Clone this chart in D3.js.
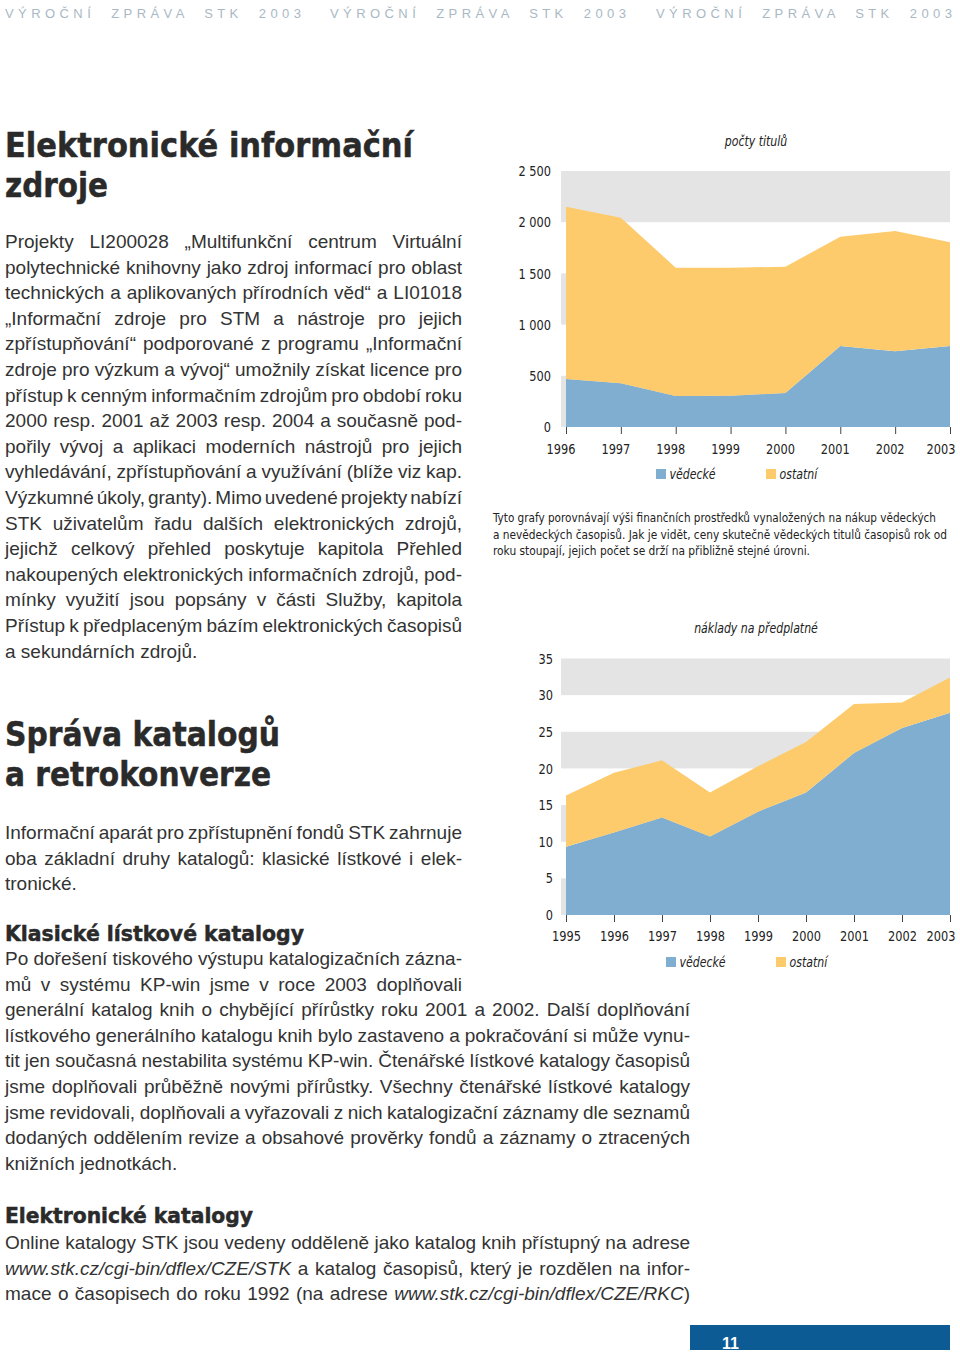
<!DOCTYPE html>
<html><head><meta charset="utf-8">
<script src="https://cdn.jsdelivr.net/npm/d3@7"></script>
<style>
html,body{margin:0;padding:0;background:#fff;}
svg{display:block;}
.body{font-family:'Liberation Sans',Arial,sans-serif;font-size:19px;fill:#333;}
.head{font-family:'DejaVu Sans',sans-serif;font-weight:bold;fill:#2a2a2a;stroke:#2a2a2a;stroke-width:0.5px;}
.narrow{font-family:'Liberation Sans Narrow','DejaVu Sans Condensed',sans-serif;font-stretch:condensed;}
</style></head>
<body><svg id="page" width="960" height="1358"></svg>
<script>
// ---- chart data ----
const years1 = ["1996","1997","1998","1999","2000","2001","2002","2003"];
const vedecke1 = [469,427,303,306,332,791,739,791];
const ostatni1 = [1682,1617,1253,1250,1233,1067,1175,1013];
const yTicks1 = [0,500,1000,1500,2000,2500];

const years2 = ["1995","1996","1997","1998","1999","2000","2001","2002","2003"];
const vedecke2 = [9.3,11.25,13.3,10.7,14.1,16.7,22.1,25.5,27.6];
const ostatni2 = [7.0,8.15,7.8,6.0,6.2,6.9,6.7,3.5,4.8];
const yTicks2 = [0,5,10,15,20,25,30,35];

const seriesNames = ["vědecké","ostatní"];
const title1 = "počty titulů";
const title2 = "náklady na předplatné";

const COL_BLUE = "#80aed0", COL_YEL = "#fdcb6c", COL_GRAY = "#e4e4e4";

const svg = d3.select("#page");

// compress a text node horizontally to mimic a condensed face
function squeeze(sel,f){
  sel.each(function(){
    const w = this.getComputedTextLength();
    d3.select(this).attr("textLength",(w*f).toFixed(1)).attr("lengthAdjust","spacingAndGlyphs");
  });
}

// ---- header ----
[5,330,656].forEach(x=>{
  const t = svg.append("text").attr("x",x).attr("y",18)
    .attr("font-family","'Liberation Sans',Arial,sans-serif").attr("font-size",13)
    .attr("fill","#a9b9c4").style("white-space","pre")
    .text("VÝROČNÍ  ZPRÁVA  STK  2003");
  const n = t.text().length;
  const w = t.node().getComputedTextLength();
  t.attr("letter-spacing",((296-w)/(n-1)).toFixed(2));
});

// ---- text helpers ----
function heading(txt,x,y,size,width){
  svg.append("text").attr("class","head").attr("x",x).attr("y",y)
    .attr("font-size",size).attr("textLength",width).attr("lengthAdjust","spacingAndGlyphs").text(txt);
}
function para(lines,x,y0,step,width,lastJustified){
  lines.forEach((ln,i)=>{
    const t = svg.append("text").attr("class","body").attr("x",x).attr("y",y0+i*step);
    ln.split(/(\{[^}]*\})/).forEach(part=>{
      if(!part) return;
      if(part[0]==="{") t.append("tspan").attr("font-style","italic").text(part.slice(1,-1));
      else t.append("tspan").text(part);
    });
    const justify = i<lines.length-1 || lastJustified;
    if(justify){
      const nat = t.node().getComputedTextLength();
      const sp = (ln.match(/ /g)||[]).length;
      if(sp>0) t.attr("word-spacing",((width-nat)/sp).toFixed(2));
    }
  });
}

heading("Elektronické informační",5,157,33,408);
heading("zdroje",5,197,33,103);
para([
"Projekty LI200028 „Multifunkční centrum Virtuální",
"polytechnické knihovny jako zdroj informací pro oblast",
"technických a aplikovaných přírodních věd“ a LI01018",
"„Informační zdroje pro STM a nástroje pro jejich",
"zpřístupňování“ podporované z programu „Informační",
"zdroje pro výzkum a vývoj“ umožnily získat licence pro",
"přístup k cenným informačním zdrojům pro období roku",
"2000 resp. 2001 až 2003 resp. 2004 a současně pod-",
"pořily vývoj a aplikaci moderních nástrojů pro jejich",
"vyhledávání, zpřístupňování a využívání (blíže viz kap.",
"Výzkumné úkoly, granty). Mimo uvedené projekty nabízí",
"STK uživatelům řadu dalších elektronických zdrojů,",
"jejichž celkový přehled poskytuje kapitola Přehled",
"nakoupených elektronických informačních zdrojů, pod-",
"mínky využití jsou popsány v části Služby, kapitola",
"Přístup k předplaceným bázím elektronických časopisů",
"a sekundárních zdrojů."],5,248,25.6,457,false);

heading("Správa katalogů",5,746,33,275);
heading("a retrokonverze",5,786,33,266);
para([
"Informační aparát pro zpřístupnění fondů STK zahrnuje",
"oba základní druhy katalogů: klasické lístkové i elek-",
"tronické."],5,839,25.6,457,false);

heading("Klasické lístkové katalogy",5,941,21,299);
para([
"Po dořešení tiskového výstupu katalogizačních zázna-",
"mů v systému KP-win jsme v roce 2003 doplňovali"],5,965,25.6,457,true);
para([
"generální katalog knih o chybějící přírůstky roku 2001 a 2002. Další doplňování",
"lístkového generálního katalogu knih bylo zastaveno a pokračování si může vynu-",
"tit jen současná nestabilita systému KP-win. Čtenářské lístkové katalogy časopisů",
"jsme doplňovali průběžně novými přírůstky. Všechny čtenářské lístkové katalogy",
"jsme revidovali, doplňovali a vyřazovali z nich katalogizační záznamy dle seznamů",
"dodaných oddělením revize a obsahové prověrky fondů a záznamy o ztracených",
"knižních jednotkách."],5,1016.2,25.6,685,false);

heading("Elektronické katalogy",5,1223,21,248);
para([
"Online katalogy STK jsou vedeny odděleně jako katalog knih přístupný na adrese",
"{www.stk.cz/cgi-bin/dflex/CZE/STK} a katalog časopisů, který je rozdělen na infor-",
"mace o časopisech do roku 1992 (na adrese {www.stk.cz/cgi-bin/dflex/CZE/RKC})"],5,1249,25.6,685,true);

// ---- caption ----
["Tyto grafy porovnávají výši finančních prostředků vynaložených na nákup vědeckých",
 "a nevědeckých časopisů. Jak je vidět, ceny skutečně vědeckých titulů časopisů rok od",
 "roku stoupají, jejich počet se drží na přibližně stejné úrovni."].forEach((ln,i)=>{
  svg.append("text").attr("class","narrow").attr("x",493).attr("y",522+i*16.5)
    .attr("font-size",11.8).attr("fill","#222")
    .attr("textLength",[443,454,317][i]).attr("lengthAdjust","spacingAndGlyphs").text(ln);
});

// ---- charts ----
const fmt = d3.formatLocale({decimal:",",thousands:" ",grouping:[3],currency:["",""]}).format(",d");
const SQ = 0.87;

function areaChart(cfg){
  const g = svg.append("g");
  const x = d3.scalePoint().domain(cfg.years).range([566,950]);
  const y = d3.scaleLinear().domain([0,cfg.max]).range([cfg.y0,cfg.yTop]);
  // bands
  const bands = cfg.ticks.slice(0,-1).filter((d,i)=>i%2===0);
  g.selectAll("rect.band").data(bands).join("rect").attr("class","band")
    .attr("x",561).attr("width",389)
    .attr("y",d=>y(d+cfg.step)).attr("height",d=>y(d)-y(d+cfg.step)).attr("fill",COL_GRAY);
  const rows = cfg.years.map((yr,i)=>({year:yr,v:cfg.ved[i],o:cfg.ost[i]}));
  const stack = d3.stack().keys(["v","o"])(rows);
  const area = d3.area().x(d=>x(d.data.year)).y0(d=>y(d[0])).y1(d=>y(d[1]));
  g.selectAll("path.layer").data(stack).join("path").attr("class","layer")
    .attr("d",area).attr("fill",(d,i)=>i===0?COL_BLUE:COL_YEL);
  // x axis
  const xa = g.append("g").attr("transform",`translate(0,${cfg.y0})`)
    .call(d3.axisBottom(x).tickSize(7));
  xa.select(".domain").remove();
  xa.selectAll("line").attr("stroke","#444");
  const last = cfg.years[cfg.years.length-1];
  const xt = xa.selectAll("text").attr("y",cfg.labY).attr("dy",0).attr("class","narrow")
    .attr("font-size",14.5).attr("fill","#222")
    .attr("x",d=>d===last?5:cfg.labShift)
    .attr("text-anchor",d=>d===last?"end":"middle");
  squeeze(xt,SQ);
  // y axis
  const ya = g.append("g").attr("transform","translate(561,0)")
    .call(d3.axisLeft(y).tickValues(cfg.ticks).tickSize(0).tickPadding(cfg.pad).tickFormat(cfg.fmt));
  ya.select(".domain").remove();
  const yt = ya.selectAll("text").attr("class","narrow").attr("font-size",14.5).attr("fill","#222");
  squeeze(yt,SQ);
  // title
  const tt = g.append("text").attr("class","narrow").attr("x",756).attr("y",cfg.titleY)
    .attr("text-anchor","middle").attr("font-style","italic").attr("font-size",14).attr("fill","#222")
    .text(cfg.title);
  squeeze(tt,SQ);
  // legend
  const lg = g.selectAll("g.leg").data(seriesNames).join("g").attr("class","leg")
    .attr("transform",(d,i)=>`translate(${cfg.legX+i*110},${cfg.legY})`);
  lg.append("rect").attr("width",10).attr("height",10).attr("fill",(d,i)=>i===0?COL_BLUE:COL_YEL);
  const lt = lg.append("text").attr("class","narrow").attr("x",13.5).attr("y",10)
    .attr("font-style","italic").attr("font-size",14).attr("fill","#222").text(d=>d);
  squeeze(lt,SQ);
}

areaChart({years:years1,ved:vedecke1,ost:ostatni1,ticks:yTicks1,max:2500,step:500,
  y0:427,yTop:171,labY:27,labShift:-5.5,pad:10,fmt:fmt,title:title1,titleY:146,legX:656,legY:469});
areaChart({years:years2,ved:vedecke2,ost:ostatni2,ticks:yTicks2,max:35,step:5,
  y0:915,yTop:658.5,labY:26,labShift:0,pad:8,fmt:d3.format("d"),title:title2,titleY:633,legX:666,legY:957});

// ---- footer ----
svg.append("rect").attr("x",690).attr("y",1325).attr("width",260).attr("height",25).attr("fill","#0d5b94");
svg.append("text").attr("x",722).attr("y",1349).attr("font-family","'Liberation Sans',Arial,sans-serif")
  .attr("font-weight","bold").attr("font-size",16).attr("fill","#fff").text("11");
</script></body></html>
